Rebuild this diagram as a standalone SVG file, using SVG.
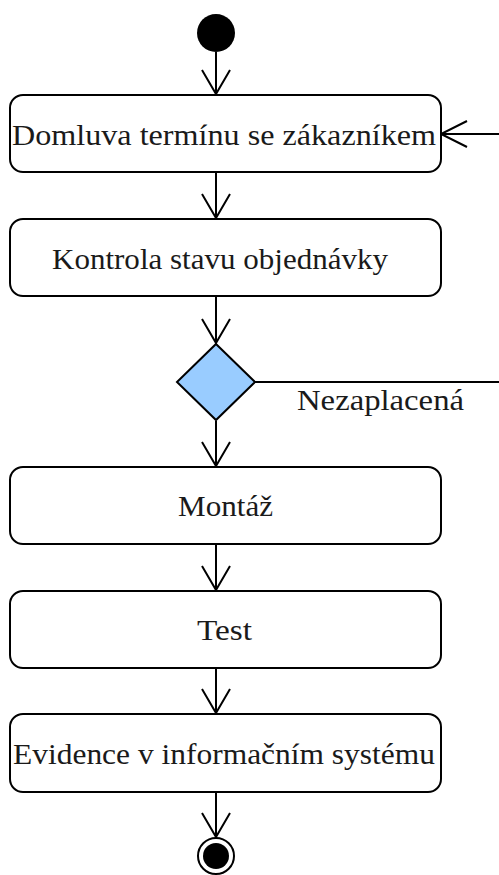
<svg xmlns="http://www.w3.org/2000/svg" width="499" height="875" viewBox="0 0 499 875">
  <style>
    .act { fill: #ffffff; stroke: #000000; stroke-width: 2; }
    .lbl { font-family: "Liberation Serif", "DejaVu Serif", serif; font-size: 29px; fill: #1a1a1a; text-anchor: middle; }
    .edge { fill: none; stroke: #000000; stroke-width: 2; }
    .head { fill: none; stroke: #000000; stroke-width: 2; }
  </style>
  <rect width="499" height="875" fill="#ffffff"/>

  <!-- connectors -->
  <g id="connectors">
    <!-- start -> Domluva -->
    <line class="edge" x1="216" y1="52" x2="216" y2="94"/>
    <path class="head" d="M202,70 L216,94 L230,70"/>
    <!-- Domluva -> Kontrola -->
    <line class="edge" x1="216" y1="172" x2="216" y2="218"/>
    <path class="head" d="M202,194 L216,218 L230,194"/>
    <!-- Kontrola -> decision -->
    <line class="edge" x1="216" y1="296" x2="216" y2="343"/>
    <path class="head" d="M202,319 L216,343 L230,319"/>
    <!-- decision -> Montáž -->
    <line class="edge" x1="216" y1="421" x2="216" y2="466"/>
    <path class="head" d="M202,442 L216,466 L230,442"/>
    <!-- Montáž -> Test -->
    <line class="edge" x1="216" y1="544" x2="216" y2="590"/>
    <path class="head" d="M202,566 L216,590 L230,566"/>
    <!-- Test -> Evidence -->
    <line class="edge" x1="216" y1="668" x2="216" y2="713"/>
    <path class="head" d="M202,689 L216,713 L230,689"/>
    <!-- Evidence -> end -->
    <line class="edge" x1="216" y1="792" x2="216" y2="837"/>
    <path class="head" d="M202,813 L216,837 L230,813"/>
    <!-- unpaid branch leaving the decision -->
    <line class="edge" x1="255" y1="382" x2="499" y2="382"/>
    <text class="lbl" x="380.5" y="410" textLength="167" lengthAdjust="spacingAndGlyphs">Nezaplacená</text>
    <!-- loop back into Domluva -->
    <line class="edge" x1="441" y1="134" x2="499" y2="134"/>
    <path class="head" d="M467,121 L441,134 L467,147"/>
  </g>

  <g id="start">
    <circle cx="216" cy="33" r="19" fill="#000000"/>
  </g>

  <g id="domluva">
    <rect class="act" x="10" y="95" width="431" height="77" rx="13"/>
    <text class="lbl" x="224" y="145" textLength="424" lengthAdjust="spacingAndGlyphs">Domluva termínu se zákazníkem</text>
  </g>

  <g id="kontrola">
    <rect class="act" x="10" y="219" width="431" height="77" rx="13"/>
    <text class="lbl" x="220" y="269" textLength="336" lengthAdjust="spacingAndGlyphs">Kontrola stavu objednávky</text>
  </g>

  <g id="decision">
    <polygon points="216,344 255,382 216,420 177,382" fill="#99ccff" stroke="#000000" stroke-width="2"/>
  </g>

  <g id="montaz">
    <rect class="act" x="10" y="467" width="431" height="77" rx="13"/>
    <text class="lbl" x="225.5" y="516" textLength="95" lengthAdjust="spacingAndGlyphs">Montáž</text>
  </g>

  <g id="test">
    <rect class="act" x="10" y="591" width="431" height="77" rx="13"/>
    <text class="lbl" x="224.5" y="640" textLength="55" lengthAdjust="spacingAndGlyphs">Test</text>
  </g>

  <g id="evidence">
    <rect class="act" x="10" y="714" width="431" height="78" rx="13"/>
    <text class="lbl" x="224" y="764" textLength="422" lengthAdjust="spacingAndGlyphs">Evidence v informačním systému</text>
  </g>

  <g id="end">
    <circle cx="216" cy="856" r="18" fill="#ffffff" stroke="#000000" stroke-width="2"/>
    <circle cx="216" cy="856" r="13" fill="#000000"/>
  </g>
</svg>
